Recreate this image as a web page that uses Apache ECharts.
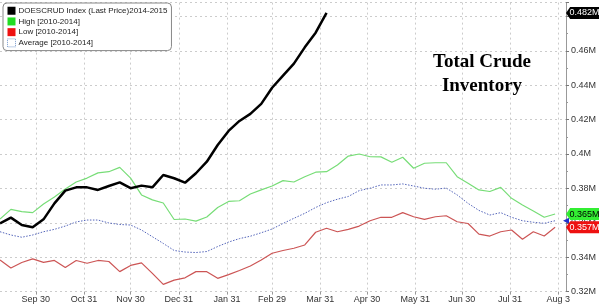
<!DOCTYPE html>
<html>
<head>
<meta charset="utf-8">
<script src="https://cdn.jsdelivr.net/npm/echarts@6/dist/echarts.min.js"></script>
<style>html,body{margin:0;padding:0;background:#fff}#c{width:600px;height:306px}</style>
</head>
<body>
<div id="c"></div>
<script>
const dates = ['2015-09-07','2015-09-14','2015-09-21','2015-09-28','2015-10-05','2015-10-12','2015-10-19','2015-10-26',
'2015-11-02','2015-11-09','2015-11-16','2015-11-23','2015-11-30','2015-12-07','2015-12-14','2015-12-21','2015-12-28',
'2016-01-04','2016-01-11','2016-01-18','2016-01-25','2016-02-01','2016-02-08','2016-02-15','2016-02-22','2016-02-29',
'2016-03-07','2016-03-14','2016-03-21','2016-03-28','2016-04-04','2016-04-11','2016-04-18','2016-04-25','2016-05-02',
'2016-05-09','2016-05-16','2016-05-23','2016-05-30','2016-06-06','2016-06-13','2016-06-20','2016-06-27','2016-07-04',
'2016-07-11','2016-07-18','2016-07-25','2016-08-01','2016-08-08','2016-08-15','2016-08-22','2016-08-29'];

const inventory2014_15 = [0.3597,0.3630,0.3587,0.3574,0.3620,0.3713,0.3787,0.3806,0.3806,0.3791,0.3814,0.3835,0.3801,0.3816,0.3806,
0.3878,0.3859,0.3833,0.3888,0.3955,0.4052,0.4134,0.4192,0.4233,0.4291,0.4385,0.4455,0.4525,0.4620,0.4705,0.4820];

const high5y = [0.3622,0.3678,0.3665,0.3659,0.3709,0.3750,0.3797,0.3837,0.3860,0.3890,0.3897,0.3922,0.3860,0.3762,0.3733,0.3715,
0.3619,0.3622,0.3610,0.3634,0.3689,0.3724,0.3728,0.3767,0.3791,0.3814,0.3845,0.3837,0.3868,0.3894,0.3897,0.3936,0.3988,0.4000,
0.3984,0.3983,0.3952,0.3981,0.3917,0.3946,0.3949,0.3949,0.3868,0.3830,0.3791,0.3782,0.3806,0.3742,0.3703,0.3669,0.3632,0.3651];

const low5y = [0.3384,0.3337,0.3369,0.3390,0.3370,0.3381,0.3340,0.3381,0.3365,0.3381,0.3375,0.3316,0.3352,0.3367,0.3306,0.3242,
0.3267,0.3280,0.3316,0.3316,0.3277,0.3299,0.3323,0.3349,0.3384,0.3423,0.3439,0.3452,0.3471,0.3545,0.3568,0.3548,0.3562,0.3581,
0.3612,0.3632,0.3632,0.3659,0.3635,0.3620,0.3635,0.3641,0.3606,0.3596,0.3534,0.3523,0.3548,0.3558,0.3504,0.3548,0.3523,0.3574];

const avg5y = [0.3548,0.3529,0.3516,0.3529,0.3548,0.3562,0.3581,0.3605,0.3616,0.3616,0.3599,0.3590,0.3587,0.3558,0.3519,0.3480,
0.3439,0.3430,0.3427,0.3433,0.3462,0.3488,0.3508,0.3522,0.3542,0.3564,0.3596,0.3626,0.3655,0.3689,0.3717,0.3737,0.3753,0.3787,
0.3801,0.3820,0.3820,0.3826,0.3814,0.3801,0.3795,0.3802,0.3762,0.3713,0.3672,0.3645,0.3659,0.3632,0.3612,0.3603,0.3597,0.3612];

const monthTickDates = ['2015-09-30','2015-10-31','2015-11-30','2015-12-31','2016-01-31','2016-02-29','2016-03-31',
'2016-04-30','2016-05-31','2016-06-30','2016-07-31','2016-08-31'];
const monthTickLabels = ['Sep 30','Oct 31','Nov 30','Dec 31','Jan 31','Feb 29','Mar 31','Apr 30','May 31','Jun 30','Jul 31','Aug 3'];

const seriesNames = ['DOESCRUD Index (Last Price)2014-2015','High [2010-2014]','Low [2010-2014]','Average [2010-2014]'];
const lastLabels = ['0.482M','0.365M','0.357M'];

const xStart = '2015-09-07';
const xEnd = '2016-09-05';

function ts(s){ const p = s.split('-').map(Number); return Date.UTC(p[0], p[1]-1, p[2]); }
const tickTs = monthTickDates.map(ts);
function pair(vals){ return vals.map((v,i)=>[ts(dates[i]), v]); }

const badgePath = 'path://M0,6 L5,0 L40,0 L40,12 L5,12 Z';
function badge(val, text, bg, fg){
  return {
    symbol: badgePath, symbolSize: [33, 12], symbolKeepAspect: false, symbolOffset: ['50%', 0],
    silent: true,
    data: [{ coord: [ts(xEnd), val], value: text,
      itemStyle: { color: bg },
      label: { show: true, position: 'inside', offset: [2, 0], color: fg, fontSize: 9, fontFamily: 'Liberation Sans', formatter: text } }]
  };
}

const chart = echarts.init(document.getElementById('c'), null, { renderer: 'canvas' });
const option = {
  animation: false,
  backgroundColor: '#fff',
  grid: { left: 0, right: 34, top: 2.6, bottom: 14.4, containLabel: false },
  legend: {
    left: 3, top: 3, orient: 'vertical',
    backgroundColor: '#fff', borderColor: '#888', borderWidth: 1, borderRadius: 4,
    padding: [3, 4, 3, 4], itemGap: 1.2, itemWidth: 8, itemHeight: 8,
    textStyle: { fontSize: 8, fontFamily: 'Liberation Sans', color: '#222', lineHeight: 9.5, padding: [0,0,0,-2] },
    data: [
      { name: seriesNames[0], icon: 'rect', itemStyle: { color: '#000' } },
      { name: seriesNames[1], icon: 'rect', itemStyle: { color: '#22dd22' } },
      { name: seriesNames[2], icon: 'rect', itemStyle: { color: '#ee1111' } },
      { name: seriesNames[3], icon: 'rect', itemStyle: { color: '#fff', borderColor: '#7799cc', borderWidth: 1, borderType: 'dotted' } }
    ]
  },
  graphic: [{
    type: 'text', x: 482, y: 50, z: 10,
    style: { text: 'Total Crude\nInventory', fill: '#000', font: 'bold 19px "Liberation Serif"', textAlign: 'center', lineHeight: 24 }
  }],
  xAxis: {
    type: 'value', min: ts(xStart), max: ts(xEnd),
    axisLine: { show: false },
    axisTick: { show: true, customValues: tickTs, length: 3, lineStyle: { color: '#999' } },
    axisLabel: {
      customValues: tickTs, fontSize: 9, fontFamily: 'Liberation Sans', color: '#333', margin: 3,
      formatter: function (v) {
        let best = 0, bd = Infinity;
        tickTs.forEach((t, i) => { const d = Math.abs(t - v); if (d < bd) { bd = d; best = i; } });
        return monthTickLabels[best];
      }
    },
    splitLine: { show: true, lineStyle: { color: '#ccc', type: [2, 3], width: 1 } }
  },
  yAxis: {
    type: 'value', position: 'right', min: 0.32, max: 0.488, interval: 0.02,
    axisLine: { show: true, lineStyle: { color: '#999' } },
    axisTick: { show: true, length: 3, lineStyle: { color: '#777' } },
    minorTick: { show: true, splitNumber: 2, length: 2, lineStyle: { color: '#999' } },
    axisLabel: {
      fontSize: 9, fontFamily: 'Liberation Sans', color: '#333', margin: 5,
      formatter: function (v) { if (v > 0.47) return ''; return String(+v.toFixed(2)) + 'M'; }
    },
    splitLine: { show: true, lineStyle: { color: '#ccc', type: [2, 3], width: 1 } }
  },
  series: [
    { name: seriesNames[3], type: 'line', data: pair(avg5y), showSymbol: false, clip: false,
      lineStyle: { color: '#5566bb', width: 1, type: [1.5, 1.5] }, itemStyle: { color: '#5566bb' },
      markPoint: { symbol: 'triangle', symbolSize: [6, 6], symbolRotate: 90, silent: true,
        data: [{ coord: [ts(xEnd), avg5y[avg5y.length - 1]], itemStyle: { color: '#2233cc' }, label: { show: false } }] } },
    { name: seriesNames[2], type: 'line', data: pair(low5y), showSymbol: false, clip: false,
      lineStyle: { color: '#cc5555', width: 1.2 }, itemStyle: { color: '#ee1111' },
      markPoint: badge(low5y[low5y.length - 1], lastLabels[2], '#ee1111', '#fff') },
    { name: seriesNames[1], type: 'line', data: pair(high5y), showSymbol: false, clip: false,
      lineStyle: { color: '#77dd77', width: 1.2 }, itemStyle: { color: '#22dd22' },
      markPoint: badge(high5y[high5y.length - 1], lastLabels[1], '#33ee33', '#000') },
    { name: seriesNames[0], type: 'line', data: pair(inventory2014_15), showSymbol: false, clip: false,
      lineStyle: { color: '#000', width: 2.5 }, itemStyle: { color: '#000' },
      markPoint: badge(inventory2014_15[inventory2014_15.length - 1], lastLabels[0], '#000', '#fff') }
  ]
};
chart.setOption(option);
</script>
</body>
</html>
